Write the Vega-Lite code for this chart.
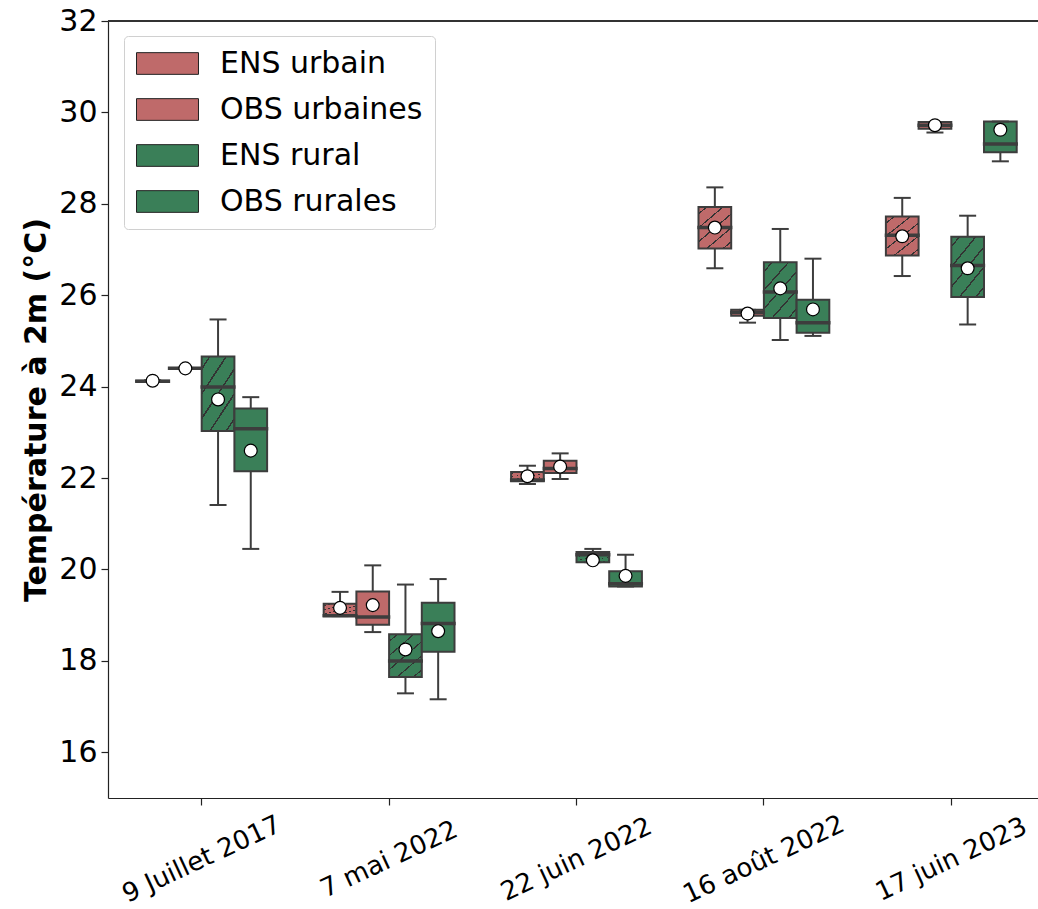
{
  "$schema": "https://vega.github.io/schema/vega-lite/v6.json",
  "width": 930,
  "height": 777,
  "autosize": {"type": "none"},
  "padding": {"left": 108, "top": 21, "right": 0, "bottom": 111},
  "config": {
    "view": {"stroke": null},
    "font": "DejaVu Sans",
    "axis": {"labelFont": "DejaVu Sans", "titleFont": "DejaVu Sans", "labelColor": "#000", "titleColor": "#000", "domainColor": "#222", "tickColor": "#222", "grid": false, "domainWidth": 1.2, "tickWidth": 1.2}
  },
  "data": {
    "values": [
      {"date": "9 Juillet 2017", "series": "ENS urbain", "lower": 24.11, "q1": 24.11, "median": 24.12, "q3": 24.13, "upper": 24.14, "mean": 24.13},
      {"date": "9 Juillet 2017", "series": "OBS urbaines", "lower": 24.39, "q1": 24.39, "median": 24.40, "q3": 24.41, "upper": 24.41, "mean": 24.40},
      {"date": "9 Juillet 2017", "series": "ENS rural", "lower": 21.41, "q1": 23.03, "median": 23.99, "q3": 24.66, "upper": 25.47, "mean": 23.72},
      {"date": "9 Juillet 2017", "series": "OBS rurales", "lower": 20.45, "q1": 22.15, "median": 23.08, "q3": 23.52, "upper": 23.77, "mean": 22.60},
      {"date": "7 mai 2022", "series": "ENS urbain", "lower": 18.98, "q1": 18.98, "median": 18.99, "q3": 19.25, "upper": 19.51, "mean": 19.16},
      {"date": "7 mai 2022", "series": "OBS urbaines", "lower": 18.63, "q1": 18.79, "median": 18.96, "q3": 19.52, "upper": 20.09, "mean": 19.22},
      {"date": "7 mai 2022", "series": "ENS rural", "lower": 17.29, "q1": 17.65, "median": 18.00, "q3": 18.58, "upper": 19.67, "mean": 18.25},
      {"date": "7 mai 2022", "series": "OBS rurales", "lower": 17.16, "q1": 18.20, "median": 18.82, "q3": 19.27, "upper": 19.79, "mean": 18.65},
      {"date": "22 juin 2022", "series": "ENS urbain", "lower": 21.87, "q1": 21.93, "median": 21.96, "q3": 22.13, "upper": 22.27, "mean": 22.04},
      {"date": "22 juin 2022", "series": "OBS urbaines", "lower": 21.98, "q1": 22.11, "median": 22.21, "q3": 22.38, "upper": 22.54, "mean": 22.25},
      {"date": "22 juin 2022", "series": "ENS rural", "lower": 20.16, "q1": 20.16, "median": 20.32, "q3": 20.38, "upper": 20.45, "mean": 20.20},
      {"date": "22 juin 2022", "series": "OBS rurales", "lower": 19.63, "q1": 19.63, "median": 19.69, "q3": 19.96, "upper": 20.32, "mean": 19.86},
      {"date": "16 août 2022", "series": "ENS urbain", "lower": 26.59, "q1": 27.02, "median": 27.48, "q3": 27.93, "upper": 28.36, "mean": 27.48},
      {"date": "16 août 2022", "series": "OBS urbaines", "lower": 25.40, "q1": 25.55, "median": 25.62, "q3": 25.68, "upper": 25.68, "mean": 25.60},
      {"date": "16 août 2022", "series": "ENS rural", "lower": 25.02, "q1": 25.50, "median": 26.07, "q3": 26.72, "upper": 27.45, "mean": 26.15},
      {"date": "16 août 2022", "series": "OBS rurales", "lower": 25.11, "q1": 25.18, "median": 25.40, "q3": 25.90, "upper": 26.80, "mean": 25.69},
      {"date": "17 juin 2023", "series": "ENS urbain", "lower": 26.42, "q1": 26.87, "median": 27.31, "q3": 27.72, "upper": 28.13, "mean": 27.29},
      {"date": "17 juin 2023", "series": "OBS urbaines", "lower": 29.56, "q1": 29.64, "median": 29.72, "q3": 29.79, "upper": 29.79, "mean": 29.72},
      {"date": "17 juin 2023", "series": "ENS rural", "lower": 25.36, "q1": 25.96, "median": 26.65, "q3": 27.28, "upper": 27.74, "mean": 26.59},
      {"date": "17 juin 2023", "series": "OBS rurales", "lower": 28.93, "q1": 29.13, "median": 29.31, "q3": 29.80, "upper": 29.80, "mean": 29.62}
    ]
  },
  "layer": [
    {
      "encoding": {
        "x": {
          "field": "date", "type": "nominal",
          "sort": ["9 Juillet 2017", "7 mai 2022", "22 juin 2022", "16 août 2022", "17 juin 2023"],
          "scale": {"range": [0, 937], "paddingInner": 0, "paddingOuter": 0},
          "title": null,
          "axis": {"labelAngle": -25, "labelAlign": "center", "labelBaseline": "middle", "labelFontSize": 26, "labelPadding": 54, "tickSize": 7}
        },
        "xOffset": {
          "field": "series", "type": "nominal",
          "scale": {"domain": ["ENS urbain", "OBS urbaines", "ENS rural", "OBS rurales"], "paddingInner": 0, "paddingOuter": 0.865}
        }
      },
      "layer": [
        {
          "mark": {"type": "rule", "color": "#3d3d3d", "strokeWidth": 2},
          "encoding": {
            "y": {"field": "lower", "type": "quantitative", "scale": {"domain": [15, 32], "nice": false, "zero": false},
              "title": "Température à 2m (°C)",
              "axis": {"values": [16, 18, 20, 22, 24, 26, 28, 30, 32], "tickSize": 7, "labelFontSize": 30, "labelPadding": 4, "titleFontSize": 30, "titleFontWeight": "bold", "titlePadding": 7}},
            "y2": {"field": "upper"}
          }
        },
        {
          "mark": {"type": "bar", "stroke": "#3d3d3d", "strokeWidth": 2},
          "encoding": {
            "y": {"field": "q1", "type": "quantitative"},
            "y2": {"field": "q3"},
            "fill": {
              "condition": [
                {"test": "datum.series === 'ENS urbain'", "value": {"gradient": "linear", "x1": 0, "y1": 0, "x2": 0.769, "y2": 1.154, "stops": [
                  {"offset": 0, "color": "#bf6a6a"}, {"offset": 0.089, "color": "#bf6a6a"}, {"offset": 0.089, "color": "#333333"}, {"offset": 0.111, "color": "#333333"}, {"offset": 0.111, "color": "#bf6a6a"},
                  {"offset": 0.289, "color": "#bf6a6a"}, {"offset": 0.289, "color": "#333333"}, {"offset": 0.311, "color": "#333333"}, {"offset": 0.311, "color": "#bf6a6a"},
                  {"offset": 0.489, "color": "#bf6a6a"}, {"offset": 0.489, "color": "#333333"}, {"offset": 0.511, "color": "#333333"}, {"offset": 0.511, "color": "#bf6a6a"},
                  {"offset": 0.689, "color": "#bf6a6a"}, {"offset": 0.689, "color": "#333333"}, {"offset": 0.711, "color": "#333333"}, {"offset": 0.711, "color": "#bf6a6a"},
                  {"offset": 0.889, "color": "#bf6a6a"}, {"offset": 0.889, "color": "#333333"}, {"offset": 0.911, "color": "#333333"}, {"offset": 0.911, "color": "#bf6a6a"},
                  {"offset": 1, "color": "#bf6a6a"}]}},
                {"test": "datum.series === 'OBS urbaines'", "value": "#bf6a6a"},
                {"test": "datum.series === 'ENS rural'", "value": {"gradient": "linear", "x1": 0, "y1": 0, "x2": 0.769, "y2": 1.154, "stops": [
                  {"offset": 0, "color": "#3a7f58"}, {"offset": 0.089, "color": "#3a7f58"}, {"offset": 0.089, "color": "#333333"}, {"offset": 0.111, "color": "#333333"}, {"offset": 0.111, "color": "#3a7f58"},
                  {"offset": 0.289, "color": "#3a7f58"}, {"offset": 0.289, "color": "#333333"}, {"offset": 0.311, "color": "#333333"}, {"offset": 0.311, "color": "#3a7f58"},
                  {"offset": 0.489, "color": "#3a7f58"}, {"offset": 0.489, "color": "#333333"}, {"offset": 0.511, "color": "#333333"}, {"offset": 0.511, "color": "#3a7f58"},
                  {"offset": 0.689, "color": "#3a7f58"}, {"offset": 0.689, "color": "#333333"}, {"offset": 0.711, "color": "#333333"}, {"offset": 0.711, "color": "#3a7f58"},
                  {"offset": 0.889, "color": "#3a7f58"}, {"offset": 0.889, "color": "#333333"}, {"offset": 0.911, "color": "#333333"}, {"offset": 0.911, "color": "#3a7f58"},
                  {"offset": 1, "color": "#3a7f58"}]}}
              ],
              "value": "#3a7f58"
            }
          }
        },
        {
          "transform": [{"filter": "false"}],
          "mark": {"type": "bar"},
          "encoding": {
            "y": {"field": "q1", "type": "quantitative"},
            "y2": {"field": "q3"},
            "fill": {
              "field": "series", "type": "nominal",
              "scale": {
                "domain": ["ENS urbain", "OBS urbaines", "ENS rural", "OBS rurales"],
                "range": ["#bf6a6a", "#bf6a6a", "#3a7f58", "#3a7f58"]
              },
              "legend": {
                "title": null, "orient": "none", "legendX": 16, "legendY": 15,
                "symbolType": "M-1,-0.723H3.133V0.723H-1Z", "symbolSize": 900,
                "symbolStrokeColor": "#222", "symbolStrokeWidth": 1, "symbolOpacity": 1,
                "labelFontSize": 30, "labelFont": "DejaVu Sans", "labelColor": "#000", "labelOffset": 53, "labelLimit": 400,
                "rowPadding": 15, "padding": 12, "fillColor": "white", "strokeColor": "#d0d0d0", "cornerRadius": 4,
                "encoding": {
                  "symbols": {
                    "fill": {
                      "condition": [
                        {"test": "datum.value === 'ENS urbain'", "value": {"gradient": "linear", "x1": 0, "y1": 0, "x2": 1.203, "y2": 0.427, "stops": [
                          {"offset": 0, "color": "#bf6a6a"}, {"offset": 0.0584, "color": "#bf6a6a"}, {"offset": 0.0584, "color": "#222222"}, {"offset": 0.0844, "color": "#222222"}, {"offset": 0.0844, "color": "#bf6a6a"},
                          {"offset": 0.2013, "color": "#bf6a6a"}, {"offset": 0.2013, "color": "#222222"}, {"offset": 0.2273, "color": "#222222"}, {"offset": 0.2273, "color": "#bf6a6a"},
                          {"offset": 0.3441, "color": "#bf6a6a"}, {"offset": 0.3441, "color": "#222222"}, {"offset": 0.3701, "color": "#222222"}, {"offset": 0.3701, "color": "#bf6a6a"},
                          {"offset": 0.487, "color": "#bf6a6a"}, {"offset": 0.487, "color": "#222222"}, {"offset": 0.513, "color": "#222222"}, {"offset": 0.513, "color": "#bf6a6a"},
                          {"offset": 0.6299, "color": "#bf6a6a"}, {"offset": 0.6299, "color": "#222222"}, {"offset": 0.6559, "color": "#222222"}, {"offset": 0.6559, "color": "#bf6a6a"},
                          {"offset": 0.7727, "color": "#bf6a6a"}, {"offset": 0.7727, "color": "#222222"}, {"offset": 0.7987, "color": "#222222"}, {"offset": 0.7987, "color": "#bf6a6a"},
                          {"offset": 0.9156, "color": "#bf6a6a"}, {"offset": 0.9156, "color": "#222222"}, {"offset": 0.9416, "color": "#222222"}, {"offset": 0.9416, "color": "#bf6a6a"},
                          {"offset": 1, "color": "#bf6a6a"}]}},
                        {"test": "datum.value === 'OBS urbaines'", "value": "#bf6a6a"},
                        {"test": "datum.value === 'ENS rural'", "value": {"gradient": "linear", "x1": 0, "y1": 0, "x2": 1.203, "y2": 0.427, "stops": [
                          {"offset": 0, "color": "#3a7f58"}, {"offset": 0.0584, "color": "#3a7f58"}, {"offset": 0.0584, "color": "#222222"}, {"offset": 0.0844, "color": "#222222"}, {"offset": 0.0844, "color": "#3a7f58"},
                          {"offset": 0.2013, "color": "#3a7f58"}, {"offset": 0.2013, "color": "#222222"}, {"offset": 0.2273, "color": "#222222"}, {"offset": 0.2273, "color": "#3a7f58"},
                          {"offset": 0.3441, "color": "#3a7f58"}, {"offset": 0.3441, "color": "#222222"}, {"offset": 0.3701, "color": "#222222"}, {"offset": 0.3701, "color": "#3a7f58"},
                          {"offset": 0.487, "color": "#3a7f58"}, {"offset": 0.487, "color": "#222222"}, {"offset": 0.513, "color": "#222222"}, {"offset": 0.513, "color": "#3a7f58"},
                          {"offset": 0.6299, "color": "#3a7f58"}, {"offset": 0.6299, "color": "#222222"}, {"offset": 0.6559, "color": "#222222"}, {"offset": 0.6559, "color": "#3a7f58"},
                          {"offset": 0.7727, "color": "#3a7f58"}, {"offset": 0.7727, "color": "#222222"}, {"offset": 0.7987, "color": "#222222"}, {"offset": 0.7987, "color": "#3a7f58"},
                          {"offset": 0.9156, "color": "#3a7f58"}, {"offset": 0.9156, "color": "#222222"}, {"offset": 0.9416, "color": "#222222"}, {"offset": 0.9416, "color": "#3a7f58"},
                          {"offset": 1, "color": "#3a7f58"}]}}
                      ],
                      "value": "#3a7f58"
                    },
                    "stroke": {"value": "#222222"},
                    "strokeWidth": {"value": 1},
                    "opacity": {"value": 1}
                  }
                }
              }
            }
          }
        },
        {
          "mark": {"type": "tick", "color": "#3d3d3d", "thickness": 2, "size": 17, "opacity": 1},
          "encoding": {"y": {"field": "lower", "type": "quantitative"}}
        },
        {
          "mark": {"type": "tick", "color": "#3d3d3d", "thickness": 2, "size": 17, "opacity": 1},
          "encoding": {"y": {"field": "upper", "type": "quantitative"}}
        },
        {
          "mark": {"type": "tick", "color": "#3d3d3d", "thickness": 3.5, "size": 35, "opacity": 1},
          "encoding": {"y": {"field": "median", "type": "quantitative"}}
        },
        {
          "mark": {"type": "point", "filled": true, "fill": "white", "stroke": "#000", "strokeWidth": 1.2, "size": 165, "opacity": 1},
          "encoding": {"y": {"field": "mean", "type": "quantitative"}}
        }
      ]
    },
    {
      "mark": {"type": "rule", "color": "#333", "strokeWidth": 1.2},
      "encoding": {"y": {"datum": 32}}
    }
  ]
}
